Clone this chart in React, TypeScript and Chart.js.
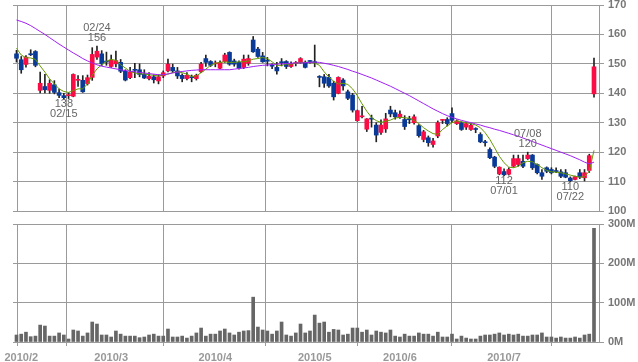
import React, { useEffect, useRef } from "react";
import { Chart, registerables } from "chart.js";

Chart.register(...registerables);

// ---- data (index 0 = 2010/01/29, one entry per trading day) ----
const openP = [
  153.4, 151.4, 149.8, 153.3, 154.2, 141.0, 142.3, 141.0, 142.9, 140.2,
  139.2, 139.2, 139.0, 144.4, 144.4, 143.3, 145.4, 152.3, 153.4, 150.8,
  149.1, 150.0, 150.5, 147.5, 145.3, 147.9, 148.0, 146.5, 145.0, 145.6,
  144.2, 145.9, 147.6, 148.8, 147.6, 146.1, 145.0, 145.4, 145.0, 147.3,
  151.8, 150.8, 150.0, 148.5, 150.8, 153.9, 151.0, 150.5, 148.8, 150.2,
  158.1, 155.0, 152.7, 151.0, 149.5, 148.8, 150.5, 150.8, 149.1, 150.1,
  150.5, 150.5, 151.0, 150.5, 145.5, 145.6, 145.4, 143.4, 140.0, 144.5,
  140.5, 139.4, 130.7, 132.0, 127.8, 131.3, 129.2, 126.7, 127.9, 134.3,
  133.4, 131.8, 131.1, 131.1, 130.0, 129.0, 124.3, 124.9, 122.6, 125.5,
  130.8, 131.1, 133.1, 129.7, 130.0, 128.5, 127.7, 127.8, 126.0, 123.3,
  120.9, 118.3, 112.6, 113.4, 112.5, 115.2, 115.8, 116.9, 117.8, 119.0,
  115.8, 113.0, 114.7, 114.1, 113.5, 113.3, 113.0, 111.2, 110.7, 113.0,
  111.3, 113.8, 139.8,
];
const highP = [
  154.6, 152.5, 152.8, 154.8, 154.5, 147.2, 146.4, 144.6, 144.3, 141.4,
  140.0, 140.2, 146.6, 146.0, 146.0, 146.2, 155.5, 156.0, 154.5, 154.0,
  153.0, 154.3, 151.5, 148.0, 148.8, 150.2, 150.0, 148.0, 147.0, 146.3,
  146.3, 147.6, 151.6, 149.9, 148.8, 146.6, 147.0, 146.2, 146.5, 150.5,
  153.0, 151.1, 151.0, 151.0, 153.6, 154.1, 151.6, 151.0, 153.0, 153.0,
  159.3, 155.6, 153.9, 152.2, 150.0, 150.5, 151.8, 151.1, 150.7, 150.8,
  152.1, 151.0, 151.1, 156.4, 146.0, 146.4, 146.4, 144.1, 145.6, 145.0,
  141.1, 140.0, 134.3, 135.6, 131.4, 132.6, 130.0, 131.0, 133.2, 135.6,
  134.3, 134.0, 132.4, 132.2, 132.7, 129.4, 127.4, 125.5, 124.7, 130.6,
  131.1, 131.7, 135.1, 131.0, 130.3, 130.0, 129.7, 128.3, 126.6, 124.0,
  121.5, 118.6, 115.0, 114.3, 114.7, 119.0, 119.0, 119.0, 120.0, 119.2,
  116.0, 114.1, 115.0, 114.7, 114.7, 114.1, 114.1, 111.6, 111.9, 114.1,
  114.1, 119.3, 152.0,
];
const lowP = [
  150.6, 146.8, 148.9, 152.8, 149.0, 140.1, 140.1, 140.0, 139.8, 138.5,
  138.0, 138.2, 138.8, 142.3, 140.3, 142.8, 144.4, 151.5, 149.4, 149.5,
  148.8, 149.0, 147.0, 144.2, 145.0, 145.3, 145.6, 145.0, 144.5, 143.5,
  143.2, 145.3, 147.3, 147.0, 145.0, 143.9, 144.5, 143.9, 144.5, 147.0,
  149.1, 149.1, 149.0, 148.4, 150.5, 149.5, 149.2, 148.2, 148.4, 149.5,
  153.9, 152.2, 150.5, 149.3, 148.4, 146.5, 149.3, 148.4, 148.8, 149.3,
  150.2, 148.6, 150.2, 149.0, 142.2, 142.0, 142.0, 137.7, 139.8, 141.1,
  137.8, 133.6, 130.5, 131.6, 127.0, 128.5, 123.5, 126.0, 126.7, 132.0,
  131.2, 131.5, 127.7, 129.7, 129.5, 125.1, 123.5, 122.0, 121.7, 124.9,
  129.7, 128.9, 130.0, 129.4, 127.4, 127.7, 127.4, 126.6, 123.2, 122.0,
  117.8, 114.7, 112.3, 112.0, 112.2, 114.9, 115.2, 114.7, 117.5, 114.1,
  112.6, 110.7, 113.0, 112.6, 113.0, 111.3, 111.3, 110.0, 110.6, 111.0,
  110.2, 113.1, 138.7,
];
const closeP = [
  151.9, 148.0, 152.3, 153.1, 149.5, 143.4, 141.2, 143.4, 140.3, 139.3,
  138.5, 139.3, 146.4, 144.5, 140.5, 145.3, 153.2, 154.3, 150.0, 150.6,
  151.3, 151.1, 147.5, 144.5, 147.2, 147.8, 146.4, 145.2, 145.8, 144.6,
  145.6, 147.0, 149.9, 147.6, 145.9, 145.0, 146.1, 145.3, 146.1, 149.9,
  150.5, 149.5, 150.1, 150.5, 153.0, 149.9, 149.9, 148.5, 151.6, 151.8,
  154.1, 152.5, 150.7, 150.9, 149.2, 147.6, 150.4, 149.1, 149.9, 150.1,
  151.8, 148.8, 150.8, 150.4, 145.4, 143.4, 142.5, 138.8, 145.4, 142.5,
  138.3, 134.3, 134.1, 132.1, 131.3, 131.2, 125.8, 129.2, 131.3, 133.0,
  132.0, 132.9, 128.7, 131.0, 132.0, 125.6, 126.9, 123.2, 123.8, 130.0,
  130.8, 129.7, 130.8, 130.6, 127.7, 129.7, 129.1, 127.7, 123.5, 123.2,
  118.1, 115.2, 114.9, 112.3, 114.1, 117.8, 117.8, 115.2, 119.0, 114.7,
  113.0, 111.8, 113.5, 113.0, 113.4, 111.8, 111.5, 110.3, 111.7, 111.5,
  113.0, 118.8, 149.0,
];
const ma5 = [
  155.3, 153.0, 152.1, 152.0, 151.5, 149.3, 147.2, 144.9, 143.2, 141.5,
  140.6, 140.3, 140.9, 141.5, 141.5, 143.2, 146.1, 148.3, 149.7, 150.9,
  151.5, 151.2, 149.7, 148.6, 147.4, 146.9, 146.6, 146.6, 146.3, 146.1,
  145.9, 146.3, 146.5, 147.0, 147.3, 147.0, 146.5, 145.7, 145.9, 147.0,
  148.2, 149.5, 150.2, 150.5, 150.7, 150.5, 150.5, 150.7, 150.7, 151.0,
  151.6, 151.8, 152.2, 151.8, 150.7, 149.5, 149.5, 149.9, 149.9, 150.2,
  150.5, 150.5, 150.5, 150.3, 149.5, 147.3, 145.5, 144.1, 143.2, 143.4,
  143.0, 141.5, 139.2, 136.4, 133.9, 131.8, 130.7, 130.1, 130.5, 130.9,
  131.6, 131.8, 131.7, 131.5, 130.8, 129.7, 128.3, 127.2, 126.3, 126.0,
  127.7, 128.9, 130.0, 130.6, 130.3, 130.0, 129.7, 129.2, 128.3, 126.6,
  124.3, 121.5, 118.6, 116.4, 114.9, 114.7, 115.2, 116.4, 116.9, 116.7,
  115.8, 114.7, 113.8, 113.3, 113.2, 113.0, 112.6, 112.2, 111.8, 111.5,
  111.7, 113.5, 120.6,
];
const ma25 = [
  164.9, 164.4, 163.8, 163.0, 162.0, 161.0, 160.0, 158.9, 157.8, 156.7,
  155.7, 154.7, 153.7, 152.8, 151.8, 151.0, 150.3, 149.7, 149.2, 148.9,
  148.6, 148.3, 148.0, 147.7, 147.5, 147.3, 147.1, 146.9, 146.7, 146.5,
  146.3, 146.3, 146.6, 146.9, 147.2, 147.4, 147.6, 147.8, 147.9, 148.0,
  148.0, 148.0, 148.0, 148.0, 148.0, 148.0, 148.2, 148.4, 148.6, 148.8,
  149.1, 149.3, 149.5, 149.6, 149.8, 149.9, 150.0, 150.1, 150.2, 150.3,
  150.3, 150.4, 150.5, 150.6, 150.5, 150.2, 149.9, 149.5, 149.1, 148.6,
  148.1, 147.5, 147.0, 146.4, 145.8, 145.2, 144.5, 143.8, 143.1, 142.4,
  141.6, 140.8, 140.0, 139.2, 138.3, 137.4, 136.5, 135.6, 134.7, 133.9,
  133.1, 132.4, 131.8, 131.3, 130.8, 130.4, 130.0, 129.6, 129.2, 128.7,
  128.3, 127.8, 127.4, 126.9, 126.4, 125.9, 125.4, 124.8, 124.2, 123.6,
  123.0, 122.4, 121.8, 121.2, 120.6, 120.0, 119.4, 118.8, 118.1, 117.4,
  116.6, 116.0, 116.6,
];
const volumeM = [
  17.8, 20, 25, 13.5, 15, 43, 40.6, 15, 15, 23,
  17.8, 7.6, 30.5, 28, 15, 23, 50.8, 45.7, 17.8, 17.8,
  12.7, 28, 20, 15, 15, 15, 11, 12.7, 17.8, 20,
  15, 15, 33, 12.7, 12.7, 15, 10, 15, 23, 35.5,
  15, 20, 20, 28, 33, 23, 17.8, 25, 28, 29,
  114, 38, 30.5, 28, 20, 28, 50.8, 17.8, 15, 23,
  45.7, 23, 28, 68.5, 48, 50.8, 25, 32, 30.5, 17.8,
  20, 35.5, 35.5, 25, 30.5, 17.8, 28, 25, 23, 30.5,
  15, 12.7, 20, 15, 15, 23, 20, 20, 15, 25,
  12.7, 12.7, 20, 7.6, 15, 10, 7.6, 7.6, 15, 17.8,
  17.8, 20, 23, 17.8, 20, 17.8, 20, 15, 15, 17.8,
  17.8, 23, 12.7, 12.7, 10, 12.7, 10, 10, 12.7, 10,
  17.8, 20, 289,
];
const monthStartIdx = [1, 20, 42, 63, 81, 103];
const monthLabels = ["2010/2", "2010/3", "2010/4", "2010/5", "2010/6", "2010/7"];
const priceTicks = [100, 110, 120, 130, 140, 150, 160, 170];
const volumeTicks = [0, 100, 200, 300];
const markIdx = [10, 17, 103, 108, 117];
const markDates = ["02/15", "02/24", "07/01", "07/08", "07/22"];
const markValues = [138, 156, 112, 120, 110];
const markKinds = ["low", "high", "low", "high", "low"];

// ---- style / layout ----
const X_MIN = -0.739;
const X_MAX = 123.056;
const GRID = "#9a9a9a";
const UP = "#fa0c44";
const DOWN = "#0a3a98";
const AXIS_FONT = '"Liberation Sans", Arial, sans-serif';

const markPlugin = {
  id: "marks",
  afterDatasetsDraw(chart: any) {
    const { ctx } = chart;
    const x = chart.scales.x;
    const y = chart.scales.y;
    ctx.save();
    ctx.font = '11px "Liberation Sans", Arial, sans-serif';
    ctx.fillStyle = "#666666";
    ctx.textAlign = "center";
    ctx.textBaseline = "middle";
    markIdx.forEach((idx, k) => {
      const px = x.getPixelForValue(idx);
      const py = y.getPixelForValue(markValues[k]);
      if (markKinds[k] === "high") {
        ctx.fillText(String(markValues[k]), px, py - 8);
        ctx.fillText(markDates[k], px, py - 18.5);
      } else {
        ctx.fillText(String(markValues[k]), px, py + 5);
        ctx.fillText(markDates[k], px, py + 15);
      }
    });
    ctx.restore();
  },
};

function xTicks(scale: any) {
  scale.ticks = [X_MIN, ...monthStartIdx, X_MAX].map((v) => ({ value: v }));
}
function noPad(s: any) {
  s.paddingTop = 0;
  s.paddingBottom = 0;
  s.paddingLeft = 0;
  s.paddingRight = 0;
}

export default function App() {
  const priceRef = useRef<HTMLCanvasElement>(null);
  const volRef = useRef<HTMLCanvasElement>(null);

  useEffect(() => {
    const bodies = openP.map((o, i) => {
      const c = closeP[i];
      return { x: i, y: [Math.min(o, c), Math.max(o, c)] };
    });
    const bodyColors = openP.map((o, i) => (closeP[i] >= o ? UP : DOWN));
    const wicks = highP.map((h, i) => ({ x: i, y: [lowP[i], h] }));

    const price = new Chart(priceRef.current as HTMLCanvasElement, {
      type: "bar",
      data: {
        datasets: [
          {
            type: "line",
            data: ma25.map((v, i) => ({ x: i, y: v })),
            borderColor: "#9f1ff5",
            borderWidth: 1,
            pointRadius: 0,
            tension: 0,
            order: 0,
          } as any,
          {
            type: "line",
            data: ma5.map((v, i) => ({ x: i, y: v })),
            borderColor: "#669900",
            borderWidth: 1,
            pointRadius: 0,
            tension: 0,
            order: 1,
          } as any,
          {
            type: "bar",
            data: bodies,
            backgroundColor: bodyColors,
            barThickness: 4,
            grouped: false,
            minBarLength: 1,
            order: 2,
          } as any,
          {
            type: "bar",
            data: wicks,
            backgroundColor: "#222222",
            barThickness: 1,
            grouped: false,
            order: 3,
          } as any,
        ],
      },
      options: {
        responsive: false,
        animation: false,
        events: [],
        layout: { padding: { left: 13, top: 5, right: 0, bottom: 0 } },
        plugins: { legend: { display: false }, tooltip: { enabled: false } },
        scales: {
          x: {
            type: "linear",
            min: X_MIN,
            max: X_MAX,
            offset: false,
            grid: { color: GRID, drawTicks: false, lineWidth: 1 },
            border: { display: true, color: GRID },
            ticks: { display: false },
            afterBuildTicks: xTicks,
            afterFit: (s: any) => {
              s.height = 5;
              noPad(s);
            },
          },
          y: {
            position: "right",
            min: 100,
            max: 170,
            grid: { color: GRID, drawTicks: true, tickLength: 5 },
            border: { color: GRID },
            afterBuildTicks: (s: any) => {
              s.ticks = priceTicks.map((v) => ({ value: v }));
            },
            ticks: {
              padding: 4,
              color: "#777777",
              font: { family: AXIS_FONT, size: 11, weight: "bold" },
            },
            afterFit: (s: any) => {
              s.width = 39;
              noPad(s);
            },
          },
        },
      } as any,
      plugins: [markPlugin],
    });

    const vol = new Chart(volRef.current as HTMLCanvasElement, {
      type: "bar",
      data: {
        datasets: [
          {
            data: volumeM.map((v, i) => ({ x: i, y: v })),
            backgroundColor: "#666666",
            barThickness: 3,
            grouped: false,
          } as any,
        ],
      },
      options: {
        responsive: false,
        animation: false,
        events: [],
        layout: { padding: { left: 13, top: 8, right: 0, bottom: 0 } },
        plugins: { legend: { display: false }, tooltip: { enabled: false } },
        scales: {
          x: {
            type: "linear",
            min: X_MIN,
            max: X_MAX,
            offset: false,
            grid: { color: GRID, drawTicks: true, tickLength: 4, lineWidth: 1 },
            border: { display: true, color: GRID },
            afterBuildTicks: xTicks,
            ticks: {
              autoSkip: false,
              maxRotation: 0,
              padding: 5,
              color: "#999999",
              font: { family: AXIS_FONT, size: 11, weight: "bold" },
              callback: (v: any) => {
                const k = monthStartIdx.indexOf(v);
                return k >= 0 ? monthLabels[k] : "";
              },
            },
            afterFit: (s: any) => {
              s.height = 20;
              noPad(s);
            },
          },
          y: {
            position: "right",
            min: 0,
            max: 300,
            grid: { color: GRID, drawTicks: true, tickLength: 5 },
            border: { color: GRID },
            afterBuildTicks: (s: any) => {
              s.ticks = volumeTicks.map((v) => ({ value: v }));
            },
            ticks: {
              padding: 4,
              color: "#777777",
              font: { family: AXIS_FONT, size: 11, weight: "bold" },
              callback: (v: any) => `${v}M`,
            },
            afterFit: (s: any) => {
              s.width = 39;
              noPad(s);
            },
          },
        },
      } as any,
    });

    return () => {
      price.destroy();
      vol.destroy();
    };
  }, []);

  return (
    <div
      style={{
        position: "fixed",
        left: 0,
        top: 0,
        width: 638,
        height: 362,
        background: "#ffffff",
      }}
    >
      <canvas
        ref={priceRef}
        width={638}
        height={216}
        style={{ position: "absolute", left: 0, top: 0, width: 638, height: 216 }}
      />
      <canvas
        ref={volRef}
        width={638}
        height={146}
        style={{ position: "absolute", left: 0, top: 216, width: 638, height: 146 }}
      />
    </div>
  );
}
